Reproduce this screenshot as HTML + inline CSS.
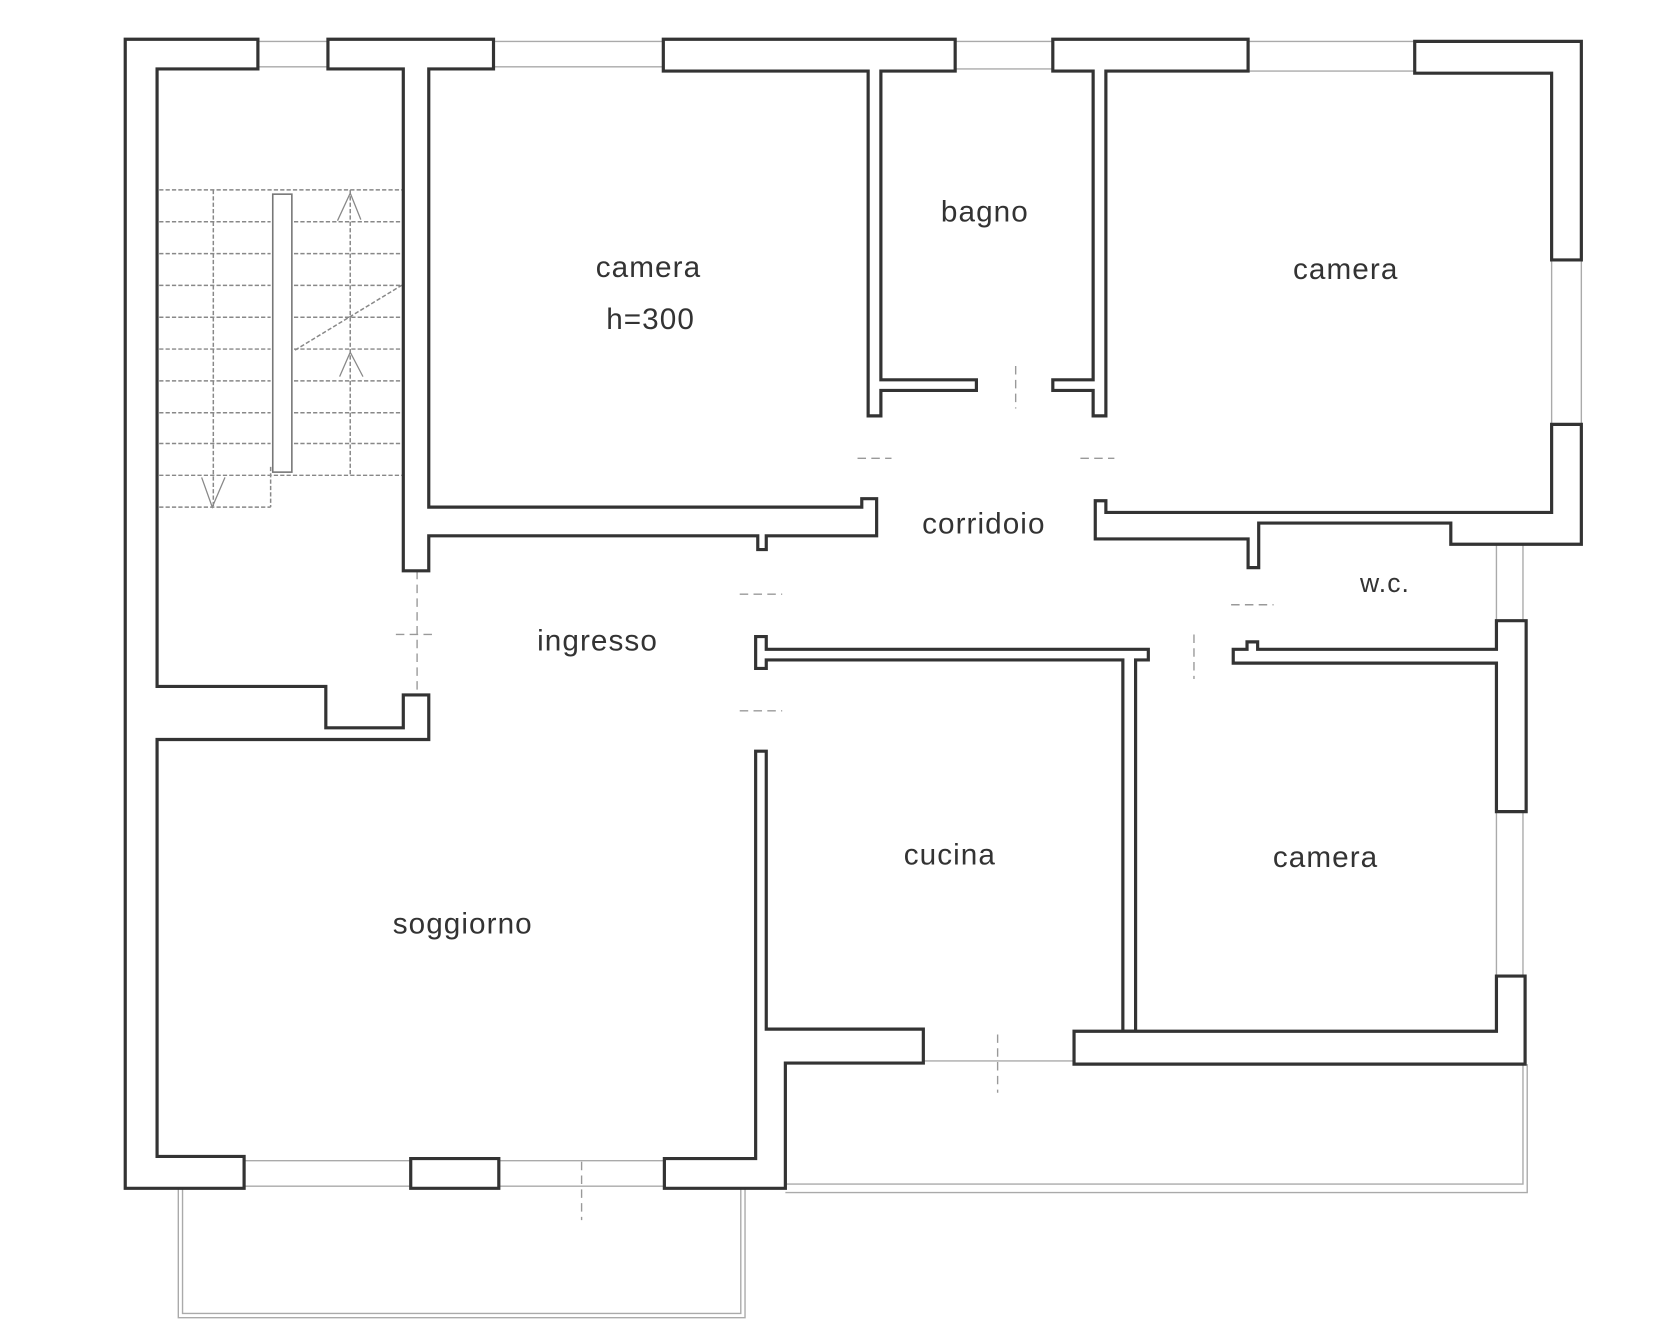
<!DOCTYPE html>
<html><head><meta charset="utf-8"><style>
html,body{margin:0;padding:0;background:#fff;width:1662px;height:1340px;overflow:hidden}
svg{display:block}
text{font-family:"Liberation Sans",sans-serif;font-size:28px;letter-spacing:1px;fill:#333;text-anchor:middle}
.w{fill:#fff;stroke:#333;stroke-width:3;stroke-linejoin:miter}
.t{fill:none;stroke:#aaa;stroke-width:1.3}
.d{fill:none;stroke:#999;stroke-width:1.3;stroke-dasharray:8 5}
.s{fill:none;stroke:#888;stroke-width:1.4;stroke-dasharray:4 2}
</style></head><body>
<svg width="1662" height="1340" viewBox="0 0 1566 1263" preserveAspectRatio="none">
<path class="t" d="M243 39H309M243 63H309M465 39H625M465 63H625M900 39H992M900 65H992M1176 39H1333M1176 67H1333"/>
<path class="t" d="M1462 245V400M1490 245V400"/>
<path class="t" d="M1410 513V585M1435 513V585M1410 765V920M1435 765V920"/>
<path class="t" d="M230 1094H387M230 1118H387M470 1094H626M470 1118H626"/>
<path class="t" d="M168 1120V1242H702V1120M172 1120V1238H698V1120"/>
<path class="t" d="M740 1116H1435V1003M740 1124H1439V1003"/>
<path class="t" d="M870 1000H1012"/>
<path class="d" d="M120 672H300M393 538V655M548 1095V1150M940 975V1030M957 345V385M1125 598V640M373 598H410M697 560H737M697 670H737M808 432H840M1018 432H1050M1160 570H1200"/>
<g class="s">
<path d="M150 179H380M150 209H255M277 209H380M150 239H255M277 239H380M150 269H255M277 269H380M150 299H255M277 299H380M150 329H255M277 329H380M150 359H255M277 359H380M150 389H255M277 389H380M150 418H255M277 418H380M150 448H380M150 478H255"/>
<path d="M201 179V478M330 179V448M255 440V478"/>
<path d="M278 330L380 268"/>
</g>
<rect x="257" y="183" width="18" height="262" fill="none" stroke="#777" stroke-width="1.5"/>
<path d="M318 208L330 182L340 207M320 355L330 332L342 355M190 450L200 478L212 450" fill="none" stroke="#888" stroke-width="1.2"/>
<path class="w" d="M118 37H243V65H148V647H307V686H380V655H404V697H148V1090H230V1120H118Z"/>
<path class="w" d="M309 37H465V65H404V478H812V470H826V505H722V518H714V505H404V538H380V65H309Z"/>
<path class="w" d="M625 37H900V67H830V358H920V368H830V392H818V67H625Z"/>
<path class="w" d="M992 37H1176V67H1042V392H1030V368H992V358H1030V67H992Z"/>
<path class="w" d="M1333 39H1490V245H1462V69H1333Z"/>
<path class="w" d="M1462 400H1490V513H1367V493H1186V535H1176V508H1032V472H1042V483H1462Z"/>
<path class="w" d="M712 600H722V612H1082V622H1070V972H1058V622H722V630H712Z"/>
<path class="w" d="M1162 612H1175V605H1185V612H1410V585H1438V765H1410V625H1162Z"/>
<path class="w" d="M712 708H722V970H870V1002H740V1120H626V1092H712Z"/>
<path class="w" d="M387 1092H470V1120H387Z"/>
<path class="w" d="M1012 972H1410V920H1437V1003H1012Z"/>
<text x="611" y="261">camera</text>
<text x="613" y="310">h=300</text>
<text x="928" y="209">bagno</text>
<text x="1268" y="263">camera</text>
<text x="927" y="503">corridoio</text>
<text x="1305" y="558" style="font-size:25px">w.c.</text>
<text x="563" y="613">ingresso</text>
<text x="895" y="815">cucina</text>
<text x="1249" y="817">camera</text>
<text x="436" y="880">soggiorno</text>
</svg>
</body></html>
